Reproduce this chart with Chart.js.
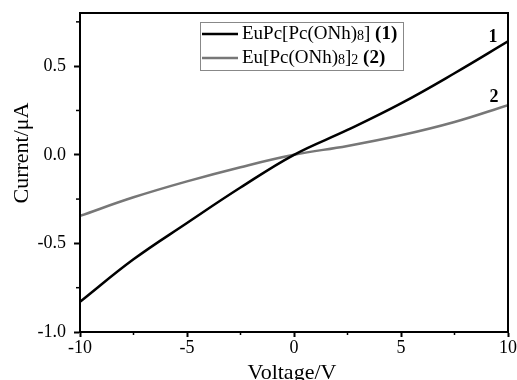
<!DOCTYPE html>
<html>
<head>
<meta charset="utf-8">
<script src="https://cdn.jsdelivr.net/npm/chart.js@4"></script>
<style>
  html, body { margin: 0; padding: 0; background: #fff; }
  #wrap { width: 517px; height: 380px; }
</style>
</head>
<body>
<div id="wrap"><canvas id="iv-chart" width="517" height="380"></canvas></div>
<script>
// voltage sweep (V) and measured currents (uA)
const voltage = [-10, -7.5, -5, -2.5, 0, 2.5, 5, 7.5, 10];
const current1 = [-0.83, -0.59, -0.385, -0.185, 0, 0.14, 0.29, 0.46, 0.64];
const current2 = [-0.345, -0.24, -0.15, -0.07, 0, 0.05, 0.11, 0.185, 0.28];

const xTicks = [-10, -5, 0, 5, 10];
const xMinor = [-7.5, -2.5, 2.5, 7.5];
const yTicks = [-1.0, -0.5, 0.0, 0.5];
const yMinor = [-0.75, -0.25, 0.25, 0.75];

const FONT = "'Liberation Serif', 'Times New Roman', serif";

function pts(ys) {
  return voltage.map((v, i) => ({ x: v, y: ys[i] }));
}

// frame, minor ticks, legend box, curve labels, axis titles
const decor = {
  id: 'decor',
  afterDraw(chart) {
    const { ctx, chartArea: a, scales } = chart;
    ctx.save();
    ctx.strokeStyle = '#000';
    ctx.lineWidth = 2;
    ctx.strokeRect(a.left, a.top, a.right - a.left, a.bottom - a.top);

    ctx.lineWidth = 1.5;
    xMinor.forEach(v => {
      const px = scales.x.getPixelForValue(v);
      ctx.beginPath(); ctx.moveTo(px, a.bottom); ctx.lineTo(px, a.bottom + 3); ctx.stroke();
    });
    yMinor.forEach(v => {
      const py = scales.y.getPixelForValue(v);
      ctx.beginPath(); ctx.moveTo(a.left, py); ctx.lineTo(a.left - 4, py); ctx.stroke();
    });

    // legend
    ctx.lineWidth = 1;
    ctx.strokeStyle = '#888';
    ctx.strokeRect(200.5, 22.5, 203, 48);
    const rows = [
      { color: '#000', y: 34, parts: ['EuPc[Pc(ONh)', '8', '] ', '(1)'] },
      { color: '#777', y: 58, parts: ['Eu[Pc(ONh)', '8', ']', '2', ' ', '(2)'] }
    ];
    rows.forEach(r => {
      ctx.strokeStyle = r.color;
      ctx.lineWidth = 2.5;
      ctx.beginPath(); ctx.moveTo(202, r.y); ctx.lineTo(238, r.y); ctx.stroke();
      let x = 242;
      ctx.fillStyle = '#000';
      ctx.textBaseline = 'middle';
      r.parts.forEach(p => {
        const sub = p === '8' || p === '2';
        if (sub) ctx.font = '14px ' + FONT;
        else if (p.startsWith('(') && p.length === 3) ctx.font = 'bold 19px ' + FONT;
        else ctx.font = '19px ' + FONT;
        ctx.fillText(p, x, r.y + (sub ? 2 : 0));
        x += ctx.measureText(p).width;
      });
    });

    // curve numbers
    ctx.font = 'bold 18px ' + FONT;
    ctx.textAlign = 'center';
    ctx.fillText('1', 493, 37);
    ctx.fillText('2', 494, 97);

    // axis titles
    ctx.font = '22px ' + FONT;
    ctx.textBaseline = 'alphabetic';
    ctx.fillText('Voltage/V', 292, 379);
    ctx.translate(28, 153);
    ctx.rotate(-Math.PI / 2);
    ctx.fillText('Current/\u03bcA', 0, 0);
    ctx.restore();
  }
};

new Chart(document.getElementById('iv-chart'), {
  type: 'line',
  data: {
    datasets: [
      {
        label: 'EuPc[Pc(ONh)8] (1)',
        data: pts(current1),
        borderColor: '#000',
        borderWidth: 2.5,
        pointRadius: 0,
        tension: 0.4
      }, {
        label: 'Eu[Pc(ONh)8]2 (2)',
        data: pts(current2),
        borderColor: '#777',
        borderWidth: 2.5,
        pointRadius: 0,
        tension: 0.4
      }
    ]
  },
  options: {
    responsive: false,
    animation: false,
    layout: { padding: { top: 13, right: 9, left: 0, bottom: 0 } },
    plugins: { legend: { display: false }, tooltip: { enabled: false } },
    scales: {
      x: {
        type: 'linear',
        min: -10,
        max: 10,
        afterBuildTicks: s => { s.ticks = xTicks.map(v => ({ value: v })); },
        afterFit: s => { s.height = 48; s.paddingLeft = 0; s.paddingRight = 0; },
        grid: { drawOnChartArea: false, tickLength: 5, tickWidth: 2, color: '#000' },
        border: { display: true, color: '#000', width: 2 },
        ticks: { color: '#000', padding: 0, maxRotation: 0, font: { family: FONT, size: 18 } }
      },
      y: {
        min: -1.0,
        max: 0.8,
        afterBuildTicks: s => { s.ticks = yTicks.map(v => ({ value: v })); },
        afterFit: s => { s.width = 80; s.paddingTop = 0; s.paddingBottom = 0; },
        grid: { drawOnChartArea: false, tickLength: 6, tickWidth: 2, color: '#000' },
        border: { display: true, color: '#000', width: 2 },
        ticks: { color: '#000', padding: 8, font: { family: FONT, size: 18 },
                 callback: v => v.toFixed(1) }
      }
    }
  },
  plugins: [decor]
});
</script>
</body>
</html>
